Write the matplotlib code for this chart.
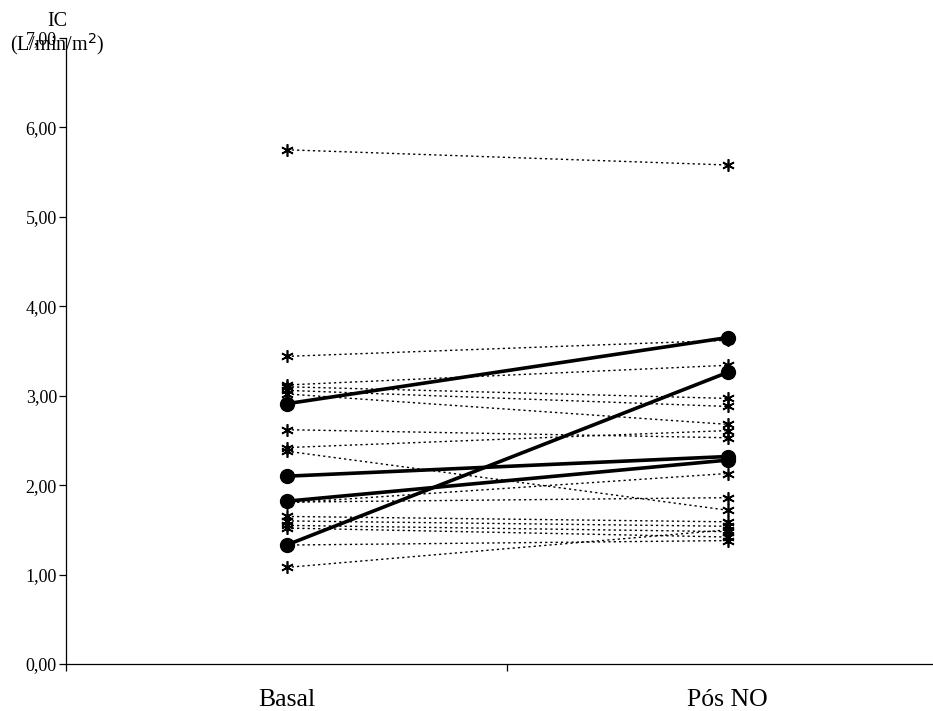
import matplotlib
matplotlib.use("Agg")
import matplotlib.pyplot as plt
from matplotlib.ticker import FixedLocator, FuncFormatter

categories = ["Basal", "Pós NO"]

# dotted individual series (Basal, Pós NO)
dotted_basal = [5.75, 3.44, 3.12, 3.10, 3.06, 3.02, 2.62, 2.42, 2.38, 1.81, 1.80,
                1.65, 1.60, 1.55, 1.52, 1.33, 1.08]
dotted_pos = [5.58, 3.62, 3.34, 2.97, 2.88, 2.68, 2.53, 2.61, 1.72, 1.86, 2.13,
              1.59, 1.54, 1.48, 1.42, 1.38, 1.50]

# bold series (Basal, Pós NO)
bold_basal = [2.91, 2.10, 1.82, 1.33]
bold_pos = [3.65, 2.32, 2.28, 3.26]

y_ticks = [0, 1, 2, 3, 4, 5, 6, 7]

plt.rcParams['font.family'] = ['Liberation Serif', 'DejaVu Serif']

fig = plt.figure(figsize=(9.33, 7.11), dpi=100)
ax = fig.add_axes([66/933, 1 - 664/711, 882/933, 626/711])

xs = [0, 1]
for b, p in zip(dotted_basal, dotted_pos):
    ax.plot(xs, [b, p], color='black', lw=1.0, linestyle=(0, (1.6, 2.2)),
            marker=(6, 2, 0), markersize=9, markeredgewidth=1.2,
            markeredgecolor='black', zorder=2)
for b, p in zip(bold_basal, bold_pos):
    ax.plot(xs, [b, p], color='black', lw=2.6, linestyle='-',
            marker='o', markersize=10, markerfacecolor='black',
            markeredgecolor='black', zorder=3)

ax.set_xlim(-0.5, 1.5)
ax.set_ylim(0, 7)
ax.spines['top'].set_visible(False)
ax.spines['right'].set_visible(False)
ax.spines['left'].set_linewidth(0.9)
ax.spines['bottom'].set_linewidth(0.9)

ax.set_xticks(xs)
ax.set_xticklabels(categories, fontsize=18.5)
ax.xaxis.set_minor_locator(FixedLocator([-0.5, 0.5, 1.5]))
ax.tick_params(axis='x', which='major', length=0, pad=18)
ax.tick_params(axis='x', which='minor', length=5, width=0.9, direction='out')

ax.yaxis.set_major_locator(FixedLocator(y_ticks))
ax.yaxis.set_major_formatter(FuncFormatter(lambda v, pos: f"{v:.2f}".replace('.', ',')))
ax.tick_params(axis='y', which='major', length=5, width=0.9, direction='out',
               labelsize=13, pad=1.5)

fig.text(57/933, 1 - 22/711, "IC", fontsize=14.5, ha='center', va='center')
fig.text(57/933, 1 - 44/711, "(L/min/m$^2$)", fontsize=14.5, ha='center', va='center')

fig.savefig("out.png", dpi=100)
